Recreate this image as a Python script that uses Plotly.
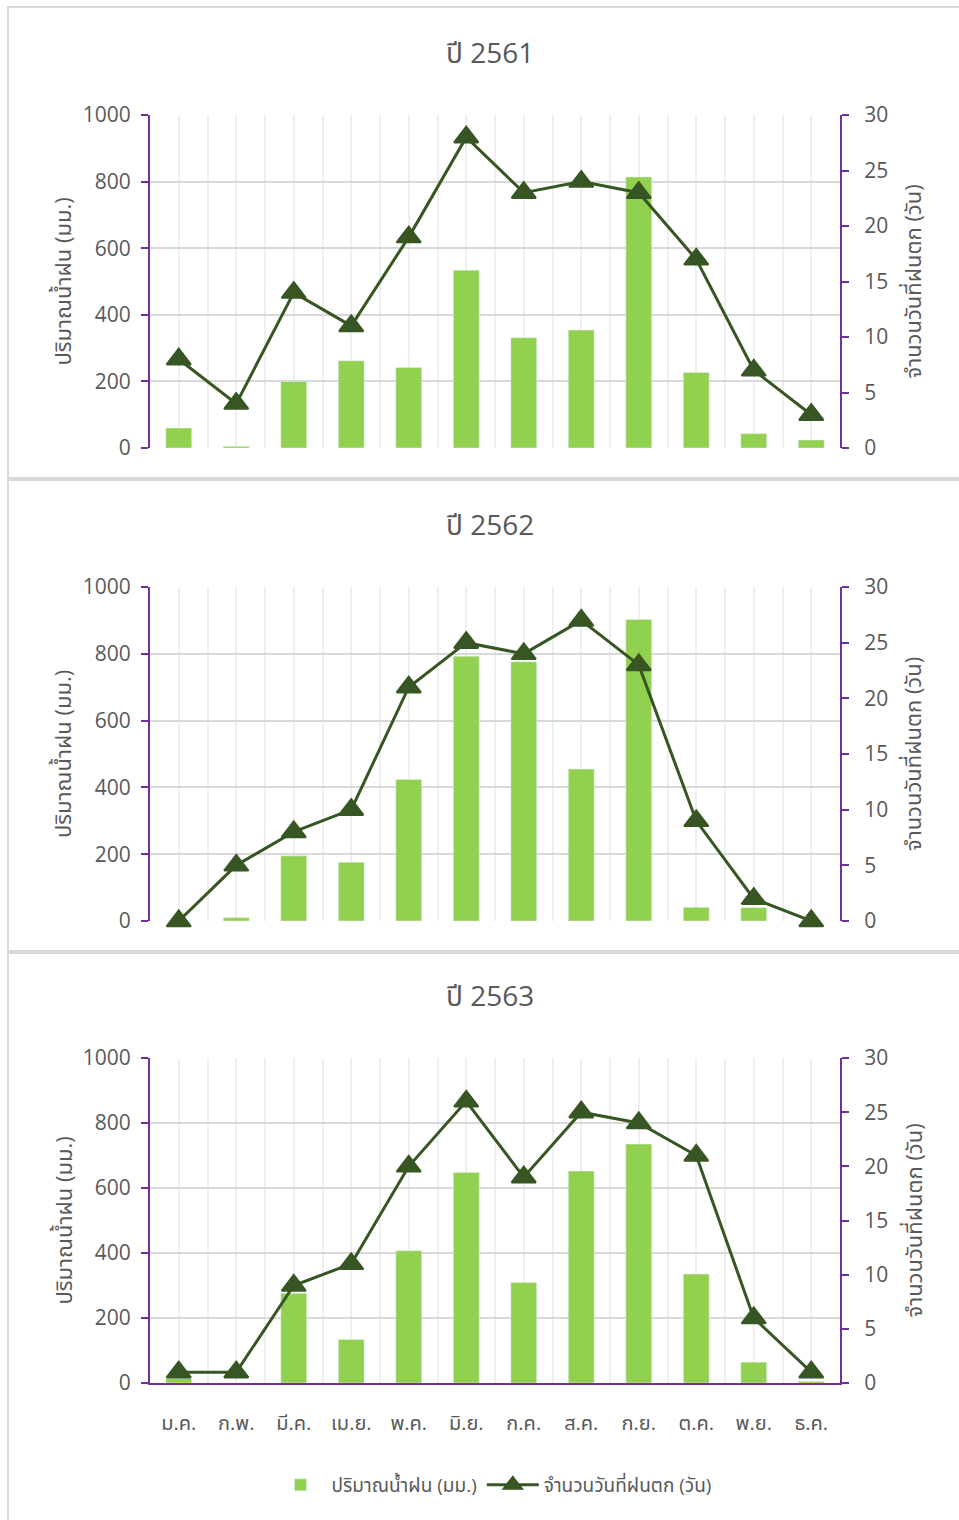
import plotly.graph_objects as go

months = ["ม.ค.", "ก.พ.", "มี.ค.", "เม.ย.", "พ.ค.", "มิ.ย.", "ก.ค.", "ส.ค.", "ก.ย.", "ต.ค.", "พ.ย.", "ธ.ค."]
years = ["ปี 2561", "ปี 2562", "ปี 2563"]

rain_2561 = [60, 5, 200, 262, 242, 534, 331, 354, 814, 227, 43, 24]
days_2561 = [8, 4, 14, 11, 19, 28, 23, 24, 23, 17, 7, 3]

rain_2562 = [0, 10, 195, 176, 424, 793, 776, 455, 903, 41, 40, 0]
days_2562 = [0, 5, 8, 10, 21, 25, 24, 27, 23, 9, 2, 0]

rain_2563 = [14, 0, 276, 134, 407, 648, 309, 652, 735, 335, 64, 5]
days_2563 = [1, 1, 9, 11, 20, 26, 19, 25, 24, 21, 6, 1]

rain_name = "ปริมาณน้ำฝน (มม.)"
days_name = "จำนวนวันที่ฝนตก (วัน)"

rains = [rain_2561, rain_2562, rain_2563]
days = [days_2561, days_2562, days_2563]

W, H = 959, 1520
FONT = "Open Sans, Noto Sans Thai, Leelawadee UI, Tahoma, sans-serif"
GRAY = "#595959"
PURPLE = "#7030A0"
BAR = "#92D050"
LINE = "#375623"

# plot areas in pixels (top, bottom)
areas = [(115, 448), (587, 921), (1058, 1383)]
xl, xr = 150, 840
panels = [(7, 478), (480, 951), (953, 1530)]

idx = list(range(len(months)))

fig = go.Figure()
layout = dict(
    width=W, height=H,
    margin=dict(l=0, r=0, t=0, b=0, pad=0, autoexpand=False),
    paper_bgcolor="white", plot_bgcolor="white",
    font=dict(family=FONT, color=GRAY),
    showlegend=True,
)
annotations = []
shapes = []

for i in range(3):
    top, bot = areas[i]
    xa = "x" if i == 0 else f"x{i+1}"
    yl = f"y{2*i+1}" if i > 0 else "y"
    yr = f"y{2*i+2}"
    xkey = "xaxis" if i == 0 else f"xaxis{i+1}"
    ylkey = "yaxis" if i == 0 else f"yaxis{2*i+1}"
    yrkey = f"yaxis{2*i+2}"
    dom = [1 - bot / H, 1 - top / H]
    last = (i == 2)

    fig.add_trace(go.Bar(
        x=idx, y=rains[i], xaxis=xa, yaxis=yl, name=rain_name,
        marker=dict(color=BAR), width=0.45, showlegend=last,
        legendrank=1,
    ))
    fig.add_trace(go.Scatter(
        x=idx, y=days[i], xaxis=xa, yaxis=yr, name=days_name,
        mode="lines+markers", line=dict(color=LINE, width=3),
        marker=dict(symbol="triangle-up", size=21, color=LINE,
                    line=dict(color=LINE, width=2)),
        cliponaxis=False, showlegend=last, legendrank=2,
    ))

    layout[xkey] = dict(
        domain=[xl / W, xr / W], anchor=yl, range=[-0.5, 11.5],
        tickmode="array", tickvals=idx, ticktext=months,
        showticklabels=last, ticks="", ticklabelstandoff=21,
        tickfont=dict(size=20, color=GRAY, family=FONT),
        showgrid=True, gridcolor="#EFEFEF", gridwidth=1.5,
        minor=dict(tick0=0.5, dtick=1, showgrid=True, gridcolor="#EFEFEF", gridwidth=1.5),
        zeroline=False, automargin=False,
        showline=last, linecolor=PURPLE, linewidth=2,
        fixedrange=True,
    )
    layout[ylkey] = dict(
        domain=dom, anchor=xa, range=[0, 1000], dtick=200,
        showline=True, linecolor=PURPLE, linewidth=2,
        ticks="outside", tickcolor=PURPLE, ticklen=7, tickwidth=2,
        ticklabelstandoff=6,
        tickfont=dict(size=21, color=GRAY, family=FONT),
        showgrid=True, gridcolor="#D9D9D9", gridwidth=1.5,
        zeroline=False, automargin=False,
    )
    layout[yrkey] = dict(
        domain=dom, anchor=xa, overlaying=yl, side="right",
        range=[0, 30], dtick=5,
        showline=True, linecolor=PURPLE, linewidth=2,
        ticks="outside", tickcolor=PURPLE, ticklen=7, tickwidth=2,
        ticklabelstandoff=11,
        tickfont=dict(size=21, color=GRAY, family=FONT),
        showgrid=False, zeroline=False, automargin=False,
    )

    # titles
    ty = [52, 524, 995][i]
    annotations.append(dict(
        text=years[i], x=490 / W, y=1 - ty / H, xref="paper", yref="paper",
        xanchor="center", yanchor="middle", showarrow=False,
        font=dict(size=28, color=GRAY, family=FONT),
    ))
    mid = (top + bot) / 2
    annotations.append(dict(
        text=rain_name, x=62 / W, y=1 - mid / H, xref="paper", yref="paper",
        xanchor="center", yanchor="middle", showarrow=False, textangle=-90,
        font=dict(size=22, color=GRAY, family=FONT),
    ))
    annotations.append(dict(
        text=days_name, x=912 / W, y=1 - mid / H, xref="paper", yref="paper",
        xanchor="center", yanchor="middle", showarrow=False, textangle=-90,
        font=dict(size=22, color=GRAY, family=FONT),
    ))

    p0, p1 = panels[i]
    shapes.append(dict(
        type="rect", xref="paper", yref="paper", layer="below",
        x0=8 / W, x1=1.01, y0=1 - p1 / H, y1=1 - p0 / H,
        line=dict(color="#D9D9D9", width=2), fillcolor="rgba(0,0,0,0)",
    ))

layout["annotations"] = annotations
layout["shapes"] = shapes
layout["legend"] = dict(
    orientation="h", x=493 / W, xanchor="center", y=1 - 1485 / H, yanchor="middle",
    font=dict(size=19, color=GRAY, family=FONT), itemwidth=52,
    bgcolor="rgba(0,0,0,0)", traceorder="normal",
)
fig.update_layout(**layout)
fig.write_html(
    "out.html",
    config={"displayModeBar": False},
    post_script="document.body.style.margin='0';document.body.style.padding='0';",
)
